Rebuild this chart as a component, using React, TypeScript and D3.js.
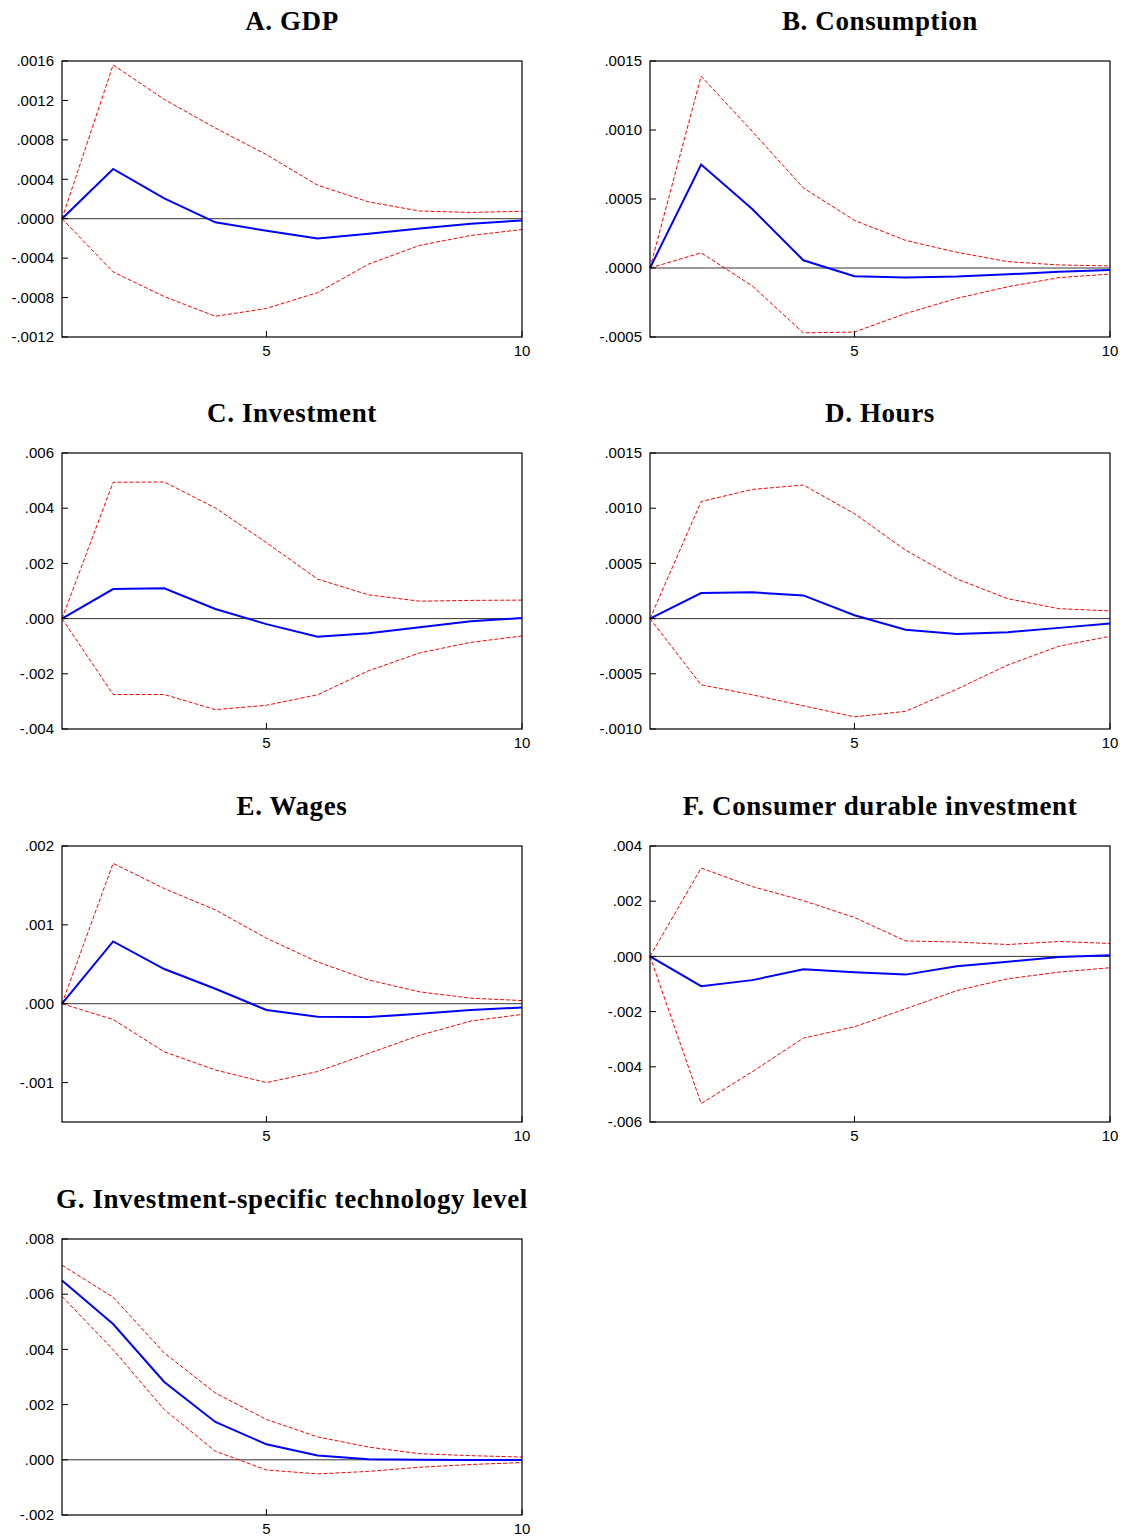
import React, { useEffect, useRef } from "react";
import * as d3 from "d3";

// horizon 1..10
const periods = [1, 2, 3, 4, 5, 6, 7, 8, 9, 10];

const gdpMean = [0, 0.000505, 0.000207, -0.000037, -0.000122, -0.0002, -0.000153, -0.0001, -0.00005, -0.000017];
const gdpUpper = [0, 0.00156, 0.00121, 0.00092, 0.00065, 0.00034, 0.00017, 0.000078, 0.000064, 0.000075];
const gdpLower = [0, -0.00054, -0.00079, -0.00099, -0.00091, -0.00075, -0.00046, -0.00027, -0.00017, -0.00011];
const gdpTicks = [0.0016, 0.0012, 0.0008, 0.0004, 0, -0.0004, -0.0008, -0.0012];

const consMean = [0, 0.00075, 0.000427, 0.000056, -0.00006, -0.000068, -0.000062, -0.000046, -0.000027, -0.000015];
const consUpper = [0, 0.00139, 0.00099, 0.00058, 0.000345, 0.0002, 0.000114, 0.000046, 0.000022, 0.000015];
const consLower = [0, 0.00011, -0.00013, -0.00047, -0.000464, -0.00033, -0.00022, -0.000136, -0.00007, -0.000044];
const consTicks = [0.0015, 0.001, 0.0005, 0, -0.0005];

const invMean = [0, 0.00107, 0.0011, 0.00035, -0.0002, -0.00066, -0.00053, -0.00031, -0.0001, 0.00002];
const invUpper = [0, 0.00494, 0.00495, 0.00401, 0.00275, 0.00143, 0.00086, 0.00063, 0.00066, 0.00067];
const invLower = [0, -0.00275, -0.00275, -0.0033, -0.00314, -0.00276, -0.00189, -0.00124, -0.00086, -0.00063];
const invTicks = [0.006, 0.004, 0.002, 0, -0.002, -0.004];

const hoursMean = [0, 0.000232, 0.000238, 0.00021, 0.00003, -0.0001, -0.00014, -0.000123, -0.000084, -0.000045];
const hoursUpper = [0, 0.00106, 0.00117, 0.00121, 0.00095, 0.00062, 0.00036, 0.00018, 0.00009, 0.00007];
const hoursLower = [0, -0.0006, -0.00069, -0.00079, -0.00089, -0.00084, -0.00064, -0.00042, -0.00025, -0.00016];
const hoursTicks = [0.0015, 0.001, 0.0005, 0, -0.0005, -0.001];

const wageMean = [0, 0.00079, 0.00044, 0.00019, -0.00008, -0.000165, -0.00017, -0.000127, -0.00008, -0.000047];
const wageUpper = [0, 0.00178, 0.00146, 0.00119, 0.00083, 0.00053, 0.0003, 0.00015, 0.00007, 0.00004];
const wageLower = [0, -0.0002, -0.00061, -0.00084, -0.001, -0.00086, -0.00063, -0.0004, -0.00022, -0.000136];
const wageTicks = [0.002, 0.001, 0, -0.001];

const durMean = [0, -0.00108, -0.00086, -0.00047, -0.00057, -0.00066, -0.00036, -0.00019, -0.00002, 0.00004];
const durUpper = [0, 0.0032, 0.00253, 0.00202, 0.00141, 0.00056, 0.00052, 0.00043, 0.00054, 0.00047];
const durLower = [0, -0.00533, -0.00418, -0.00296, -0.00255, -0.0019, -0.00124, -0.00081, -0.00057, -0.00041];
const durTicks = [0.004, 0.002, 0, -0.002, -0.004, -0.006];

const techMean = [0.0065, 0.00492, 0.00282, 0.00137, 0.00056, 0.00016, 0.00002, 0, -0.00001, -0.00001];
const techUpper = [0.00705, 0.00589, 0.00387, 0.00242, 0.00146, 0.00083, 0.00046, 0.00022, 0.00015, 0.0001];
const techLower = [0.00592, 0.00399, 0.00182, 0.00031, -0.00037, -0.00051, -0.00042, -0.00027, -0.00017, -0.0001];
const techTicks = [0.008, 0.006, 0.004, 0.002, 0, -0.002];

const xTicks = [5, 10];

interface Panel {
  title: string;
  mean: number[];
  upper: number[];
  lower: number[];
  domain: [number, number];
  ticks: number[];
  digits: number;
  col: number;
  row: number;
}

const panels: Panel[] = [
  { title: "A. GDP", mean: gdpMean, upper: gdpUpper, lower: gdpLower, domain: [-0.0012, 0.0016], ticks: gdpTicks, digits: 4, col: 0, row: 0 },
  { title: "B. Consumption", mean: consMean, upper: consUpper, lower: consLower, domain: [-0.0005, 0.0015], ticks: consTicks, digits: 4, col: 1, row: 0 },
  { title: "C. Investment", mean: invMean, upper: invUpper, lower: invLower, domain: [-0.004, 0.006], ticks: invTicks, digits: 3, col: 0, row: 1 },
  { title: "D. Hours", mean: hoursMean, upper: hoursUpper, lower: hoursLower, domain: [-0.001, 0.0015], ticks: hoursTicks, digits: 4, col: 1, row: 1 },
  { title: "E. Wages", mean: wageMean, upper: wageUpper, lower: wageLower, domain: [-0.0015, 0.002], ticks: wageTicks, digits: 3, col: 0, row: 2 },
  { title: "F. Consumer durable investment", mean: durMean, upper: durUpper, lower: durLower, domain: [-0.006, 0.004], ticks: durTicks, digits: 3, col: 1, row: 2 },
  { title: "G. Investment-specific technology level", mean: techMean, upper: techUpper, lower: techLower, domain: [-0.002, 0.008], ticks: techTicks, digits: 3, col: 0, row: 3 },
];

const colLeft = [62, 650];
const rowTop = [61, 453, 846, 1239];
const boxW = 460;
const boxH = 276;

const fmt = (v: number, digits: number) => {
  const s = Math.abs(v).toFixed(digits).replace(/^0/, "");
  return v < 0 ? "-" + s : s;
};

const App = () => {
  const ref = useRef<SVGSVGElement>(null);

  useEffect(() => {
    const svg = d3.select(ref.current);
    svg.selectAll("*").remove();

    panels.forEach((p) => {
      const g = svg
        .append("g")
        .attr("transform", "translate(" + colLeft[p.col] + "," + rowTop[p.row] + ")");
      const x = d3.scaleLinear().domain([1, 10]).range([0, boxW]);
      const y = d3.scaleLinear().domain(p.domain).range([boxH, 0]);

      g.append("text")
        .text(p.title)
        .attr("x", boxW / 2)
        .attr("y", -31)
        .attr("text-anchor", "middle")
        .style("font-family", "'Liberation Serif', 'Times New Roman', serif")
        .style("font-weight", "bold")
        .style("font-size", "27px")
        .style("letter-spacing", "0.6px");

      // zero line
      g.append("line")
        .attr("x1", 0)
        .attr("x2", boxW)
        .attr("y1", y(0))
        .attr("y2", y(0))
        .attr("stroke", "#333")
        .attr("stroke-width", 1);

      const line = d3
        .line<number>()
        .x((_, i) => x(periods[i]))
        .y((d) => y(d));

      [p.upper, p.lower].forEach((band) => {
        g.append("path")
          .attr("d", line(band))
          .attr("fill", "none")
          .attr("stroke", "#ff0000")
          .attr("stroke-width", 1)
          .attr("stroke-dasharray", "4,2");
      });
      g.append("path")
        .attr("d", line(p.mean))
        .attr("fill", "none")
        .attr("stroke", "#0000ff")
        .attr("stroke-width", 2);

      // frame
      g.append("rect")
        .attr("width", boxW)
        .attr("height", boxH)
        .attr("fill", "none")
        .attr("stroke", "#000")
        .attr("stroke-width", 1.2);

      // y ticks (inward) and labels
      p.ticks.forEach((t) => {
        g.append("line")
          .attr("x1", 0)
          .attr("x2", 6)
          .attr("y1", y(t))
          .attr("y2", y(t))
          .attr("stroke", "#000");
        g.append("text")
          .text(fmt(t, p.digits))
          .attr("x", -8)
          .attr("y", y(t))
          .attr("dy", "0.35em")
          .attr("text-anchor", "end")
          .style("font-family", "'Liberation Sans', Arial, sans-serif")
          .style("font-size", "15px");
      });

      xTicks.forEach((t) => {
        g.append("line")
          .attr("x1", x(t))
          .attr("x2", x(t))
          .attr("y1", boxH)
          .attr("y2", boxH - 6)
          .attr("stroke", "#000");
        g.append("text")
          .text(String(t))
          .attr("x", x(t))
          .attr("y", boxH + 19)
          .attr("text-anchor", "middle")
          .style("font-family", "'Liberation Sans', Arial, sans-serif")
          .style("font-size", "15px");
      });
    });
  }, []);

  return (
    <svg
      ref={ref}
      width={1127}
      height={1536}
      style={{ position: "absolute", left: 0, top: 0, background: "#fff" }}
    />
  );
};

export default App;
